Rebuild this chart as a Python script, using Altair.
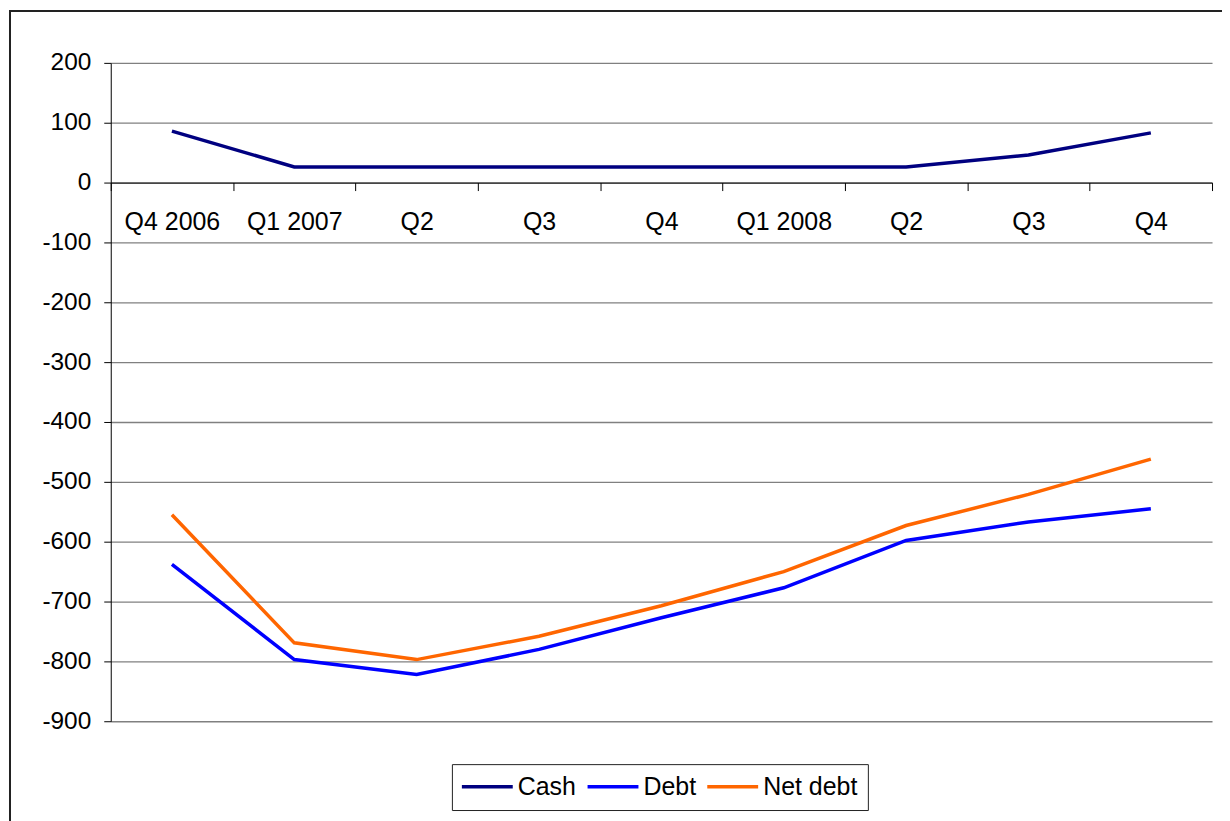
import altair as alt
import pandas as pd

quarters = ["Q4 2006", "Q1 2007", "Q2", "Q3", "Q4", "Q1 2008", "Q2 ", "Q3 ", "Q4 "]
cash = [86, 26, 26, 26, 26, 26, 26, 46, 83]
debt = [-638, -797, -822, -780, -727, -677, -598, -567, -545]
net_debt = [-555, -769, -797, -758, -707, -650, -573, -521, -462]
series = ["Cash", "Debt", "Net debt"]
colors = ["#000080", "#0000FF", "#FF6600"]
y_ticks = list(range(-900, 201, 100))

rows = []
for name, vals in zip(series, [cash, debt, net_debt]):
    for q, v in zip(quarters, vals):
        rows.append({"Quarter": q, "Series": name, "Value": v})
df = pd.DataFrame(rows)

W, H = 1104, 660
FONT = "Liberation Sans"

frame = alt.Chart(pd.DataFrame({"a": [0]})).mark_rect(
    fill="white", fillOpacity=0, stroke="#222222", strokeWidth=2, clip=False
).encode(
    x=alt.value(-101), x2=alt.value(W + 60),
    y=alt.value(-52), y2=alt.value(H + 140),
)

lines = alt.Chart(df).mark_line(strokeWidth=3.5).encode(
    x=alt.X("Quarter:N", sort=quarters, title=None,
            scale=alt.Scale(paddingInner=0, paddingOuter=0),
            axis=alt.Axis(orient="bottom", offset=-(H - 120), tickBand="extent",
                          labelAngle=0, labelFontSize=25, labelFont=FONT,
                          labelColor="black", labelPadding=19, tickSize=8,
                          tickColor="black", domainColor="black", grid=False,
                          labelExpr="trim(datum.label)")),
    y=alt.Y("Value:Q", title=None,
            scale=alt.Scale(domain=[-900, 200], nice=False, zero=False),
            axis=alt.Axis(values=y_ticks, labelFontSize=24.5, labelFont=FONT,
                          labelColor="black", labelPadding=13, tickSize=7,
                          tickColor="black", domainColor="black",
                          gridColor="#808080", gridWidth=1.3,
                          labelExpr="toString(datum.value)")),
    color=alt.Color("Series:N", sort=series,
                    scale=alt.Scale(domain=series, range=colors),
                    legend=alt.Legend(title=None, orient="none", direction="horizontal",
                                      legendX=342, legendY=703,
                                      symbolType="M-1,0H5", symbolSize=289,
                                      symbolOffset=-4,
                                      symbolStrokeWidth=3.5, labelFontSize=25,
                                      labelFont=FONT, labelColor="black",
                                      strokeColor="#222222", padding=10,
                                      columnPadding=4, labelOffset=35)),
)

chart = alt.layer(frame, lines).properties(
    width=W, height=H,
    padding={"left": 103, "top": 54, "right": 10, "bottom": 99},
    autosize=alt.AutoSizeParams(type="none"),
    background="white",
).configure_view(stroke=None)

chart.save("out.html", embed_options={"renderer": "svg", "actions": False})
